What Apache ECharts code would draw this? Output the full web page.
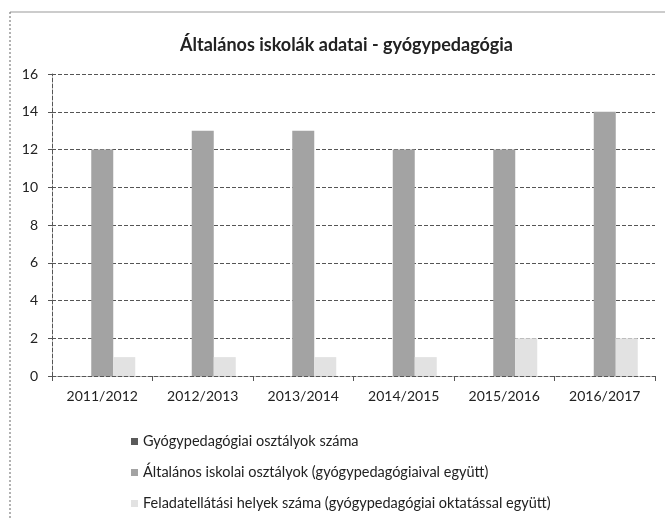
<!DOCTYPE html>
<html>
<head>
<meta charset="utf-8">
<script src="https://cdn.jsdelivr.net/npm/echarts@6/dist/echarts.min.js"></script>
<style>
  html, body { margin: 0; padding: 0; background: #fff; }
  #chart { width: 665px; height: 520px; }
</style>
</head>
<body>
<div id="chart"></div>
<script>
const years = ['2011/2012', '2012/2013', '2013/2014', '2014/2015', '2015/2016', '2016/2017'];
const gyogyOsztalyok = [0, 0, 0, 0, 0, 0];
const altalanosOsztalyok = [12, 13, 13, 12, 12, 14];
const feladatellatasiHelyek = [1, 1, 1, 1, 2, 2];
const seriesNames = [
  'Gyógypedagógiai osztályok száma',
  'Általános iskolai osztályok (gyógypedagógiaival együtt)',
  'Feladatellátási helyek száma (gyógypedagógiai oktatással együtt)'
];

const chart = echarts.init(document.getElementById('chart'));
const font = 'Lato, "Open Sans", sans-serif';

chart.setOption({
  animation: false,
  textStyle: { fontFamily: font },
  title: {
    text: 'Általános iskolák adatai - gyógypedagógia',
    left: 175,
    top: 31,
    textStyle: { fontSize: 18, fontWeight: 'bold', color: '#222', fontFamily: font }
  },
  graphic: [
    { type: 'line', shape: { x1: 10, y1: 12, x2: 665, y2: 12 }, style: { stroke: '#bbb', lineWidth: 1.5 } },
    { type: 'line', shape: { x1: 10, y1: 12, x2: 10, y2: 520 }, style: { stroke: '#666', lineWidth: 1, lineDash: [2, 2] } }
  ],
  legend: {
    orient: 'vertical',
    left: 126,
    top: 428,
    itemGap: 14,
    itemWidth: 7,
    itemHeight: 7,
    icon: 'rect',
    textStyle: { fontSize: 14.5, lineHeight: 17, color: '#222', fontFamily: font },
    data: seriesNames
  },
  grid: { left: 52, right: 10, top: 74, bottom: 144 },
  xAxis: {
    type: 'category',
    data: years,
    axisLine: { lineStyle: { color: '#555', type: 'dashed' } },
    axisTick: { show: true, length: 5, lineStyle: { color: '#555' } },
    axisLabel: { fontSize: 14, color: '#222', margin: 13 }
  },
  yAxis: {
    type: 'value',
    min: 0,
    max: 16,
    interval: 2,
    axisLine: { show: true, lineStyle: { color: '#555', type: 'dashed' } },
    axisTick: { show: true, length: 4, lineStyle: { color: '#555' } },
    axisLabel: { fontSize: 14, color: '#222', margin: 14 },
    splitLine: { lineStyle: { color: '#555', type: 'dashed', width: 1 } }
  },
  series: [
    { name: seriesNames[0], type: 'bar', data: gyogyOsztalyok, barWidth: 22, barGap: '0%', itemStyle: { color: '#5a5a5a' } },
    { name: seriesNames[1], type: 'bar', data: altalanosOsztalyok, barWidth: 22, barGap: '0%', itemStyle: { color: '#a3a3a3' } },
    { name: seriesNames[2], type: 'bar', data: feladatellatasiHelyek, barWidth: 22, barGap: '0%', itemStyle: { color: '#e2e2e2' } }
  ]
});
</script>
</body>
</html>
